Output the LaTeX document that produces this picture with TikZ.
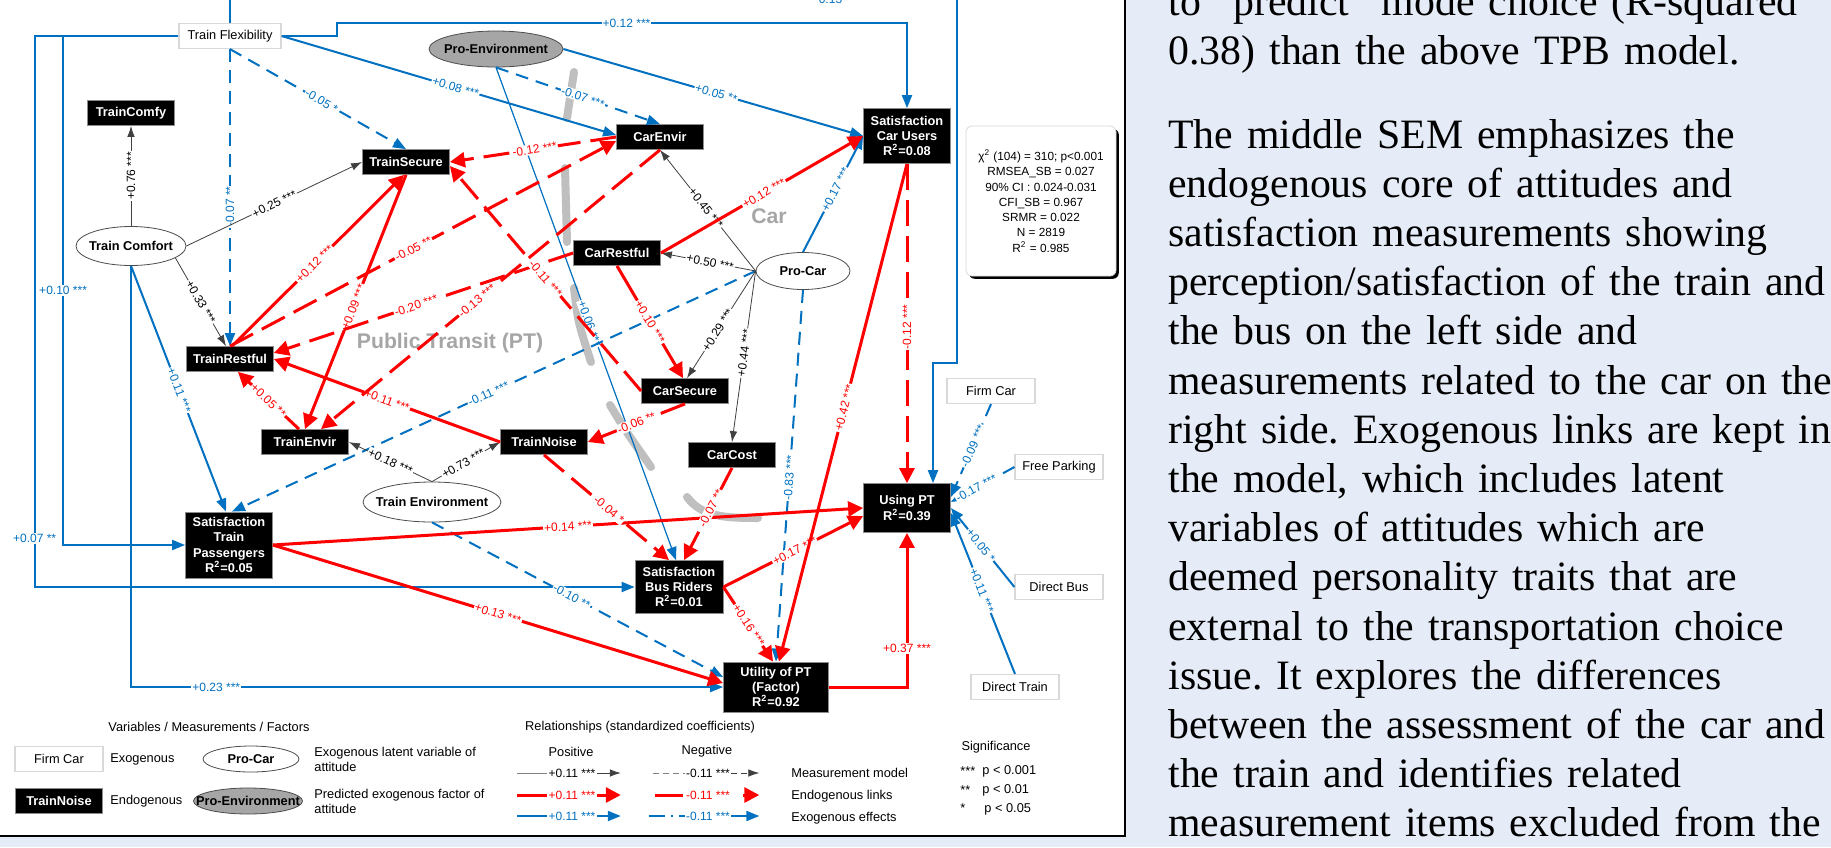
\documentclass[tikz,border=0pt]{standalone}
\usepackage{fontspec}
\setmainfont{Liberation Sans}
\newfontfamily\serifpara{Liberation Serif}
\usetikzlibrary{positioning,arrows.meta,shapes.geometric,shadows}
\definecolor{semRed}{HTML}{FF0000}
\definecolor{semBlue}{HTML}{0070C0}
\definecolor{semGray}{HTML}{A6A6A6}
\definecolor{grpGray}{HTML}{BFBFBF}
\definecolor{paneBlue}{HTML}{E6ECF7}
\tikzset{
  endo/.style={rectangle, draw=black!45, line width=0.4pt, fill=black, text=white,
    font=\fontsize{6.4}{7.6}\selectfont\bfseries, align=center,
    minimum width=43.5pt, minimum height=12.5pt, inner sep=1pt},
  exo/.style={rectangle, draw=black!15, line width=0.6pt, fill=white, text=black,
    font=\fontsize{6.4}{7.6}\selectfont, minimum width=44pt, minimum height=12.5pt, inner sep=1pt},
  latent/.style={ellipse, draw=black!70, line width=0.4pt, fill=white, text=black,
    font=\fontsize{6.4}{7.6}\selectfont\bfseries, inner xsep=-8pt, inner ysep=0pt},
  factor/.style={latent, fill=semGray},
  fitbox/.style={rectangle, rounded corners=3pt, draw=black!15, fill=white, align=center,
    font=\fontsize{5.9}{7.65}\selectfont, minimum width=75pt, minimum height=75pt,
    drop shadow={shadow xshift=1.4pt, shadow yshift=-1.4pt, fill=black, opacity=1}},
  txt/.style={font=\fontsize{6.4}{7.5}\selectfont, inner sep=0pt},
  sidetxt/.style={anchor=base west, inner sep=0pt, text width=345pt, align=left,
    font=\serifpara\fontsize{20.9}{24.6}\selectfont},
  grp/.style={line width=4pt, draw=grpGray, line cap=round},
  meas/.style={-{Latex[length=5.5pt, width=3.8pt]}, draw=black!75, line width=0.4pt},
  endopos/.style={-{Triangle[length=7.5pt, width=7.5pt]}, draw=semRed, line width=1.5pt},
  endoneg/.style={endopos, dash pattern=on 13pt off 5pt},
  exopos/.style={-{Triangle[length=6.5pt, width=5pt]}, draw=semBlue, line width=1pt},
  exoneg/.style={exopos, dash pattern=on 6.5pt off 4pt},
  lab/.style={font=\fontsize{6}{7}\selectfont, fill=white, inner sep=0.5pt},
  klab/.style={lab, text=black, sloped},
  rlab/.style={lab, text=semRed, sloped},
  blab/.style={lab, text=semBlue, sloped},
}

\begin{document}
\begin{tikzpicture}[x=0.5pt, y=-0.5pt]
\useasboundingbox (0,0) rectangle (1831,847);

% ---------- page and frame ----------
\fill[paneBlue] (0,0) rectangle (1831,847);
\fill[white] (0,0) rectangle (1125,836);
\draw[line width=1.4pt] (1125,-5) -- (1125,836) -- (-5,836);

% ---------- Car / PT separation ----------
\draw[grp] (574,72) -- (567,118);
\draw[grp] (565,168) -- (567,242);
\draw[grp] (574,288) .. controls (578,322) .. (591,362);
\draw[grp] (610,405) .. controls (625,430) .. (651,467);
\draw[grp] (687,497) .. controls (702,517) and (725,518) .. (758,518);
\node[font=\fontsize{10.6}{12}\selectfont\bfseries, text=semGray] (carlbl) at (769,216) {Car};
\node[font=\fontsize{10.6}{12}\selectfont\bfseries, text=semGray] (ptlbl) at (450,343) {Public Transit (PT)};

% ---------- Exogenous ----------
\node[exo, minimum width=51pt] (tflex) at (230,36) {Train Flexibility};
\node[exo] (firmcar) at (991,391) {Firm Car};
\node[exo] (freepark) at (1059,467) {Free Parking};
\node[exo] (directbus) at (1059,587) {Direct Bus};
\node[exo] (directtrain) at (1015,687) {Direct Train};

% ---------- Latent attitudes ----------
\node[factor, minimum width=67pt, minimum height=18pt] (proenv) at (496,49) {Pro-Environment};
\node[latent, minimum width=55pt, minimum height=19.5pt] (tcomfort) at (131,246) {Train Comfort};
\node[latent, minimum width=47pt, minimum height=18.5pt] (procar) at (803,271) {Pro-Car};
\node[latent, minimum width=69pt, minimum height=20pt] (tenv) at (432,502) {Train Environment};

% ---------- Endogenous ----------
\node[endo] (tcomfy) at (131,113) {TrainComfy};
\node[endo] (tsecure) at (406,162) {TrainSecure};
\node[endo] (carenvir) at (660,137) {CarEnvir};
\node[endo] (carrestful) at (617,253) {CarRestful};
\node[endo] (trestful) at (230,359) {TrainRestful};
\node[endo] (tenvir) at (305,442) {TrainEnvir};
\node[endo] (tnoise) at (544,442) {TrainNoise};
\node[endo] (carsecure) at (685,391) {CarSecure};
\node[endo] (carcost) at (732,455) {CarCost};
\node[endo, minimum height=27.5pt] (satcar) at (907,136)
  {Satisfaction\\Car Users\\R\textsuperscript{2}=0.08};
\node[endo, minimum height=33pt] (sattrain) at (229,545)
  {Satisfaction\\Train\\Passengers\\R\textsuperscript{2}=0.05};
\node[endo, minimum width=44pt, minimum height=26.5pt] (satbus) at (679,587)
  {Satisfaction\\Bus Riders\\R\textsuperscript{2}=0.01};
\node[endo, minimum height=24.5pt] (usingpt) at (907,508)
  {Using PT\\R\textsuperscript{2}=0.39};
\node[endo, minimum width=52.5pt, minimum height=25pt] (utility) at (776,687)
  {Utility of PT\\(Factor)\\R\textsuperscript{2}=0.92};

% ---------- Fit indices ----------
\node[fitbox] (fit) at (1041,201)
  {χ\textsuperscript{2} (104) = 310; p<0.001\\RMSEA\_SB = 0.027\\90\% CI : 0.024-0.031\\
   CFI\_SB = 0.967\\SRMR = 0.022\\N = 2819\\R\textsuperscript{2} = 0.985};

% ================= Exogenous effects =================
\draw[exoneg] (tflex.south) -- node[blab, pos=0.52] {-0.05 *} (tsecure.north);
\draw[exopos] (tflex.east) -- node[blab, pos=0.52] {+0.08 ***} ([yshift=1pt]carenvir.west);
\draw[exoneg] (tflex.south) -- node[lab, text=semBlue, rotate=90, pos=0.53] {-0.07 **} (trestful.north);
\draw[exopos] (tflex.east) -| (337,23) -| node[lab, text=semBlue, pos=0.254] {+0.12 ***} (satcar.north);
\draw[exopos] (tflex.west) -| node[lab, text=semBlue, pos=0.75] {+0.10 ***}
  ([xshift=-61pt]sattrain.west) -- (sattrain.west);
\draw[exopos] (tflex.west) -| node[lab, text=semBlue, pos=0.956] {+0.07 **}
  ([xshift=-300pt]satbus.west) -- (satbus.west);
\draw[exopos] (tflex.north) |- node[lab, text=semBlue, pos=0.913] {0.13} (957,-1)
  |- (933,363) -- ([xshift=13pt]usingpt.north);
\draw[exopos] (tcomfort.south) -- node[blab, pos=0.506] {+0.11 ***} ([xshift=-1.5pt]sattrain.north);
\draw[exopos] (tcomfort.south) |- node[lab, text=semBlue, pos=0.572] {+0.23 ***} (utility.west);
\draw[exoneg] (proenv.south) -- node[blab, pos=0.53] {-0.07 ***} (carenvir.north);
\draw[exopos] (proenv.east) -- node[blab, pos=0.51] {+0.05 **} (satcar.west);
\draw[exopos, line width=0.6pt] (proenv.south) -- node[blab, pos=0.52] {+0.06 ***} ([xshift=-1.5pt]satbus.north);
\draw[exoneg] (procar.west) -- node[blab, pos=0.51] {-0.11 ***} ([xshift=1.5pt]sattrain.north);
\draw[exopos] (procar.north) -- node[blab, pos=0.54] {+0.17 ***} (satcar.west);
\draw[exoneg] (procar.south) -- node[blab, pos=0.505] {-0.83 ***} (utility.north);
\draw[exoneg] (tenv.south) -- node[blab, pos=0.48] {-0.10 **} ([yshift=5pt]utility.west);
\draw[exoneg] (firmcar.south) -- node[blab, pos=0.45] {-0.09 ***} ([yshift=5.5pt]usingpt.east);
\draw[exoneg] (freepark.west) -- node[blab, pos=0.6] {-0.17 ***} ([yshift=3pt]usingpt.east);
\draw[exopos] (directbus.west) -- node[blab, pos=0.53] {+0.05 *} (usingpt.east);
\draw[exopos] (directtrain.north) -- node[blab, pos=0.52] {+0.11 ***} ([yshift=-2.5pt]usingpt.east);

% ================= Measurement model =================
\draw[meas] (tcomfort.north) -- node[klab, pos=0.5] {+0.76 ***} (tcomfy.south);
\draw[meas] (tcomfort.east) -- node[klab, pos=0.5] {+0.25 ***} (tsecure.west);
\draw[meas] (tcomfort.-15) -- node[klab, pos=0.5] {+0.33 ***} ([xshift=-2pt]trestful.north);
\draw[meas] (procar.west) -- node[klab, pos=0.52] {+0.45 ***} (carenvir.south);
\draw[meas] (procar.west) -- node[klab, pos=0.48] {+0.50 ***} (carrestful.east);
\draw[meas] (procar.west) -- node[klab, pos=0.55] {+0.29 ***} ([xshift=1pt]carsecure.north);
\draw[meas] (procar.west) -- node[klab, pos=0.48] {+0.44 ***} (carcost.north);
\draw[meas] (tenv.north) -- node[klab, pos=0.5] {+0.18 ***} (tenvir.east);
\draw[meas] (tenv.north) -- node[klab, pos=0.46] {+0.73 ***} (tnoise.west);

% ================= Endogenous links =================
\draw[endopos] ([xshift=1pt]trestful.north) -- node[rlab, pos=0.48] {+0.12 ***} ([xshift=-1pt]tsecure.south);
\draw[endopos] (tsecure.south) -- node[rlab, pos=0.52] {+0.09 ***} (tenvir.north);
\draw[endopos] (tnoise.west) -- node[rlab, pos=0.5] {+0.11 ***} (trestful.east);
\draw[endopos] ([xshift=-3pt]tenvir.north) -- node[rlab, pos=0.5] {+0.05 **} ([xshift=4pt]trestful.south);
\draw[endopos] (carrestful.south) -- node[rlab, pos=0.5] {+0.10 ***} ([xshift=-1pt]carsecure.north);
\draw[endopos] (carrestful.east) -- node[rlab, pos=0.51] {+0.12 ***} (satcar.west);
\draw[endopos] (sattrain.east) -- node[rlab, pos=0.5] {+0.14 ***} (usingpt.west);
\draw[endopos] (sattrain.east) -- node[rlab, pos=0.5] {+0.13 ***} ([yshift=2pt]utility.west);
\draw[endopos] (satbus.east) -- node[rlab, pos=0.51] {+0.17 ***} ([yshift=-4pt]usingpt.west);
\draw[endopos] (satbus.east) -- node[rlab, pos=0.51] {+0.16 ***} ([xshift=-1.5pt]utility.north);
\draw[endopos] (utility.east) -| node[lab, text=semRed, pos=0.625] {+0.37 ***} (usingpt.south);
\draw[endopos] (satcar.south) -- node[rlab, pos=0.49] {+0.42 ***} ([xshift=1.5pt]utility.north);
\draw[endoneg] (satcar.south) -- node[lab, text=semRed, rotate=90, pos=0.51] {-0.12 ***} (usingpt.north);
\draw[endoneg] (carenvir.west) -- node[rlab, pos=0.49] {-0.12 ***} (tsecure.east);
\draw[endoneg] (trestful.north) -- node[rlab, pos=0.475] {-0.05 **} ([yshift=-2pt]carenvir.west);
\draw[endoneg] (carenvir.south) -- node[rlab, pos=0.54] {-0.13 ***} ([xshift=8pt]tenvir.north);
\draw[endoneg] (carrestful.west) -- node[rlab, pos=0.525] {-0.20 ***} ([yshift=3pt]trestful.east);
\draw[endoneg] (carsecure.west) -- node[rlab, pos=0.5] {-0.11 ***} ([yshift=-2pt]tsecure.east);
\draw[endoneg] (carsecure.south) -- node[rlab, pos=0.5] {-0.06 **} (tnoise.east);
\draw[endoneg] (tnoise.south) -- node[rlab, pos=0.52] {-0.04 *} ([xshift=-5pt]satbus.north);
\draw[endoneg] (carcost.south) -- node[rlab, pos=0.44] {-0.07 **} ([xshift=2.5pt]satbus.north);

% ================= Legend =================
\node[txt] (lgvar) at (209,727) {Variables / Measurements / Factors};
\node[exo] (lgfirm) at (59,759) {Firm Car};
\node[txt, anchor=west] (lgexo) at (110,759) {Exogenous};
\node[latent, minimum width=48pt, minimum height=13pt] (lgprocar) at (251,759) {Pro-Car};
\node[txt, anchor=west, align=left] (lglatent) at (314,759) {Exogenous latent variable of\\attitude};
\node[endo] (lgnoise) at (59,801) {TrainNoise};
\node[txt, anchor=west] (lgendo) at (110,801) {Endogenous};
\node[factor, minimum width=54.5pt, minimum height=13pt] (lgproenv) at (248,801) {Pro-Environment};
\node[txt, anchor=west, align=left] (lgfactor) at (314,801) {Predicted exogenous factor of\\attitude};

\node[txt] (lgrel) at (640,727) {Relationships (standardized coefficients)};
\node[txt] (lgpos) at (571,752) {Positive};
\node[txt] (lgneg) at (707,751) {Negative};
\node[lab, text=black] (lgposm) at (572,773) {+0.11 ***};
\draw[draw=black!50, line width=0.4pt] ([xshift=-15pt]lgposm.west) -- (lgposm.west);
\draw[meas] (lgposm.east) -- ([xshift=12pt]lgposm.east);
\node[lab, text=black] (lgnegm) at (708,773) {-0.11 ***};
\draw[draw=black!50, line width=0.4pt, dash pattern=on 3pt off 2pt] ([xshift=-16pt]lgnegm.west) -- (lgnegm.west);
\draw[meas, dash pattern=on 3pt off 2pt] (lgnegm.east) -- ([xshift=14pt]lgnegm.east);
\node[lab, text=semRed] (lgpose) at (572,795) {+0.11 ***};
\draw[draw=semRed, line width=1.5pt] ([xshift=-15pt]lgpose.west) -- (lgpose.west);
\draw[endopos] (lgpose.east) -- ([xshift=12pt]lgpose.east);
\node[lab, text=semRed] (lgnege) at (708,795) {-0.11 ***};
\draw[draw=semRed, line width=1.5pt] ([xshift=-15pt]lgnege.west) -- ([xshift=-1pt]lgnege.west);
\draw[endopos] ([xshift=6pt]lgnege.east) -- ([xshift=14pt]lgnege.east);
\node[lab, text=semBlue] (lgposx) at (572,816) {+0.11 ***};
\draw[draw=semBlue, line width=1pt] ([xshift=-15pt]lgposx.west) -- (lgposx.west);
\draw[exopos] (lgposx.east) -- ([xshift=12pt]lgposx.east);
\node[lab, text=semBlue] (lgnegx) at (708,816) {-0.11 ***};
\draw[draw=semBlue, line width=1pt, dash pattern=on 8pt off 3pt on 1pt off 3pt] ([xshift=-18pt]lgnegx.west) -- (lgnegx.west);
\draw[exopos] (lgnegx.east) -- ([xshift=14pt]lgnegx.east);
\node[txt, anchor=west] (lgmeas) at (791,773) {Measurement model};
\node[txt, anchor=west] (lgendl) at (791,796) {Endogenous links};
\node[txt, anchor=west] (lgexol) at (791,818) {Exogenous effects};

\node[txt] (lgsig) at (996,747) {Significance};
\node[txt, anchor=west] (lgs3) at (960,771) {***};
\node[txt, anchor=west] (lgp3) at (982,771) {p < 0.001};
\node[txt, anchor=west] (lgs2) at (960,790) {**};
\node[txt, anchor=west] (lgp2) at (982,790) {p < 0.01};
\node[txt, anchor=west] (lgs1) at (960,808) {*};
\node[txt, anchor=west] (lgp1) at (984,809) {p < 0.05};

% ================= Side text =================
\node[sidetxt] (para1) at (1168,15)
  {\frenchspacing to “predict” mode choice (R-squared\\0.38) than the above TPB model.};
\node[sidetxt] (para2) at (1168,148)
  {\frenchspacing The middle SEM emphasizes the\\
   endogenous core of attitudes and\\
   satisfaction measurements showing\\
   perception/satisfaction of the train and\\
   the bus on the left side and\\
   measurements related to the car on the\\
   right side. Exogenous links are kept in\\
   the model, which includes latent\\
   variables of attitudes which are\\
   deemed personality traits that are\\
   external to the transportation choice\\
   issue. It explores the differences\\
   between the assessment of the car and\\
   the train and identifies related\\
   measurement items excluded from the};

\end{tikzpicture}
\end{document}
